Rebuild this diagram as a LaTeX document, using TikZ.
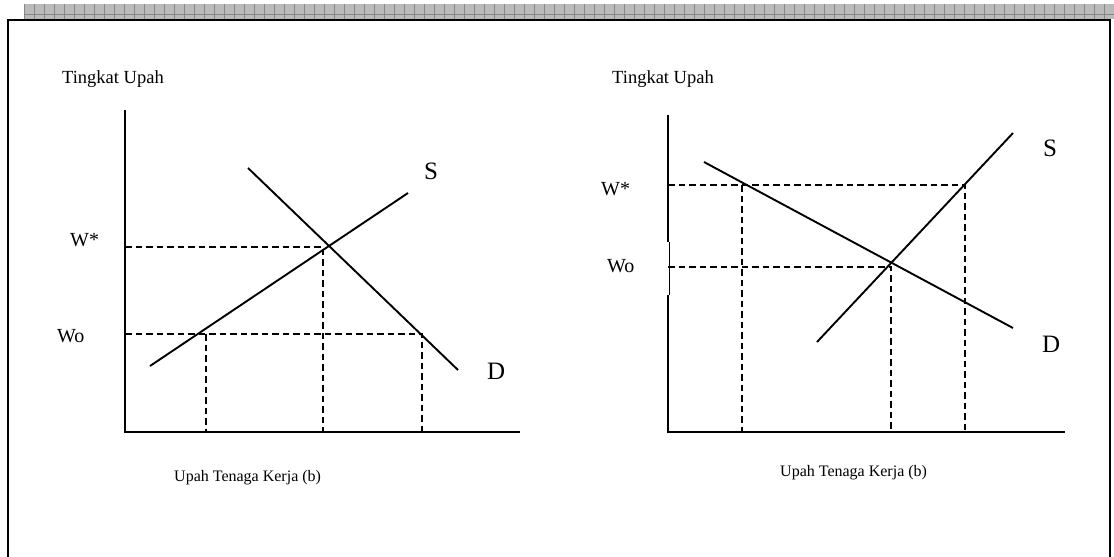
\documentclass[tikz,border=0pt]{standalone}
\usepackage{fontspec}
\setmainfont{Liberation Serif}
\begin{document}
\begin{tikzpicture}[x=1pt,y=-1pt,
  axis/.style={line width=2pt},
  curve/.style={line width=1.9pt},
  guide/.style={line width=1.5pt,dash pattern=on 6.5pt off 4pt},
  frame/.style={line width=2pt},
  title/.style={font=\fontsize{18.5}{20}\selectfont,anchor=base west,inner sep=0pt},
  xtitle/.style={font=\fontsize{16}{18}\selectfont,anchor=base west,inner sep=0pt},
  wlab/.style={font=\fontsize{20}{22}\selectfont,anchor=base west,inner sep=0pt},
  sdlab/.style={font=\fontsize{25}{27}\selectfont,anchor=base west,inner sep=0pt}]
\useasboundingbox (0,0) rectangle (1114,557);
% top band
\fill[black!27] (24,4) rectangle (1114,19);
\foreach \x in {24,34,...,1114} \draw[black!47,line width=0.7pt] (\x,4) -- (\x,19);
\draw[black!47,line width=0.7pt] (24,14) -- (1114,14);
% frame
\draw[frame] (8,557) -- (8,20) -- (1110,20) -- (1110,557);
% ---------- left graph ----------
\coordinate (LO) at (125,432);
\coordinate (LYT) at (125,110);
\coordinate (LXR) at (520,432);
\draw[axis] (LYT) -- (LO) -- (LXR);
\coordinate (LS1) at (150,366); \coordinate (LS2) at (408,193);
\coordinate (LD1) at (248,168); \coordinate (LD2) at (458,370);
\draw[curve] (LS1) -- (LS2);
\draw[curve] (LD1) -- (LD2);
\coordinate (LWs) at (125,247); \coordinate (LWsE) at (323,247);
\coordinate (LWo) at (125,334); \coordinate (LWoE) at (422,334);
\draw[guide] (LWs) -- (LWsE) -- (323,432);
\draw[guide] (LWo) -- (LWoE) -- (422,432);
\draw[guide] (206,334) -- (206,432);
\node[title] (lt1) at (62,83) {Tingkat Upah};
\node[xtitle] (lt2) at (174,481) {Upah Tenaga Kerja (b)};
\node[wlab] (lws) at (70,246) {W*};
\node[wlab] (lwo) at (57,342) {Wo};
\node[sdlab] (ls) at (424,179) {S};
\node[sdlab] (ld) at (487,379) {D};
% ---------- right graph ----------
\coordinate (RO) at (668,432);
\coordinate (RYT) at (668,115);
\coordinate (RXR) at (1065,432);
\draw[axis] (RYT) -- (668,242);
\draw[line width=0.8pt] (669,242) -- (669,295);
\draw[axis] (668,295) -- (RO) -- (RXR);
\coordinate (RS1) at (817,342); \coordinate (RS2) at (1013,133);
\coordinate (RD1) at (704,162); \coordinate (RD2) at (1013,328);
\draw[curve] (RS1) -- (RS2);
\draw[curve] (RD1) -- (RD2);
\draw[guide] (668,185) -- (965,185) -- (965,432);
\draw[guide] (668,267) -- (891,267) -- (891,432);
\draw[guide] (742,185) -- (742,432);
\node[title] (rt1) at (612,83) {Tingkat Upah};
\node[xtitle] (rt2) at (780,476) {Upah Tenaga Kerja (b)};
\node[wlab] (rws) at (601,195) {W*};
\node[wlab] (rwo) at (607,272) {Wo};
\node[sdlab] (rs) at (1043,156) {S};
\node[sdlab] (rd) at (1042,352) {D};
\end{tikzpicture}
\end{document}
